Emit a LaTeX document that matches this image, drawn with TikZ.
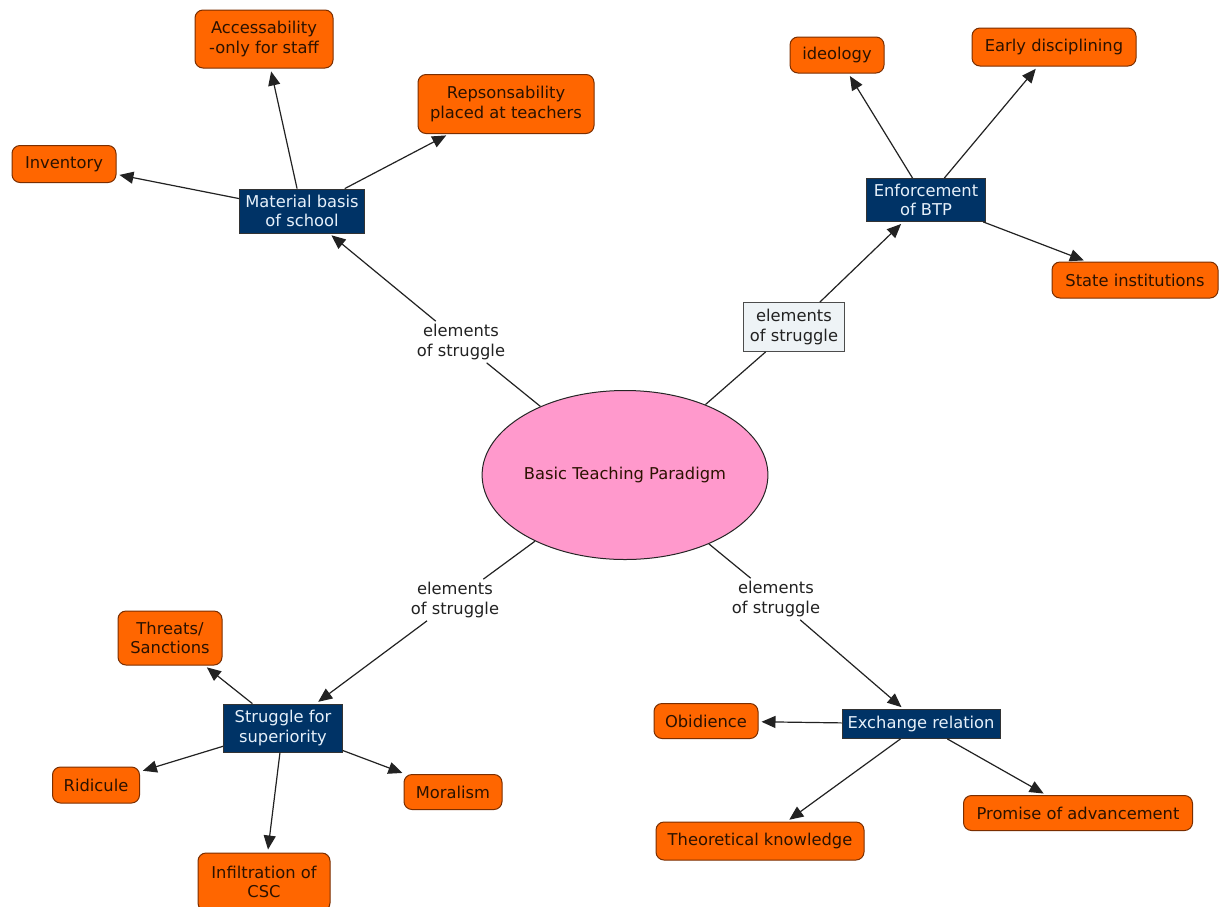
\documentclass[tikz,border=0pt]{standalone}
\usepackage{fontspec}
\setmainfont{DejaVu Sans}
\usetikzlibrary{arrows.meta,shapes.geometric}
\definecolor{orangefill}{HTML}{FF6600}
\definecolor{orangeedge}{HTML}{7A2E00}
\definecolor{bluefill}{HTML}{003366}
\definecolor{bluetext}{HTML}{E6F0FA}
\definecolor{pinkfill}{HTML}{FF99CC}
\definecolor{labelfill}{HTML}{EEF3F6}
\definecolor{inkdark}{HTML}{2B1200}
\definecolor{linkink}{HTML}{222222}
\begin{document}
\begin{tikzpicture}[x=1pt,y=-1pt,
  txt/.style={font=\fontsize{16.3}{19.5}\selectfont, align=center, inner sep=0pt},
  leaf/.style={txt, rectangle, rounded corners=8pt, fill=orangefill, draw=orangeedge, line width=1pt, text=inkdark},
  concept/.style={txt, rectangle, fill=bluefill, draw=black!80, line width=0.8pt, text=bluetext},
  root/.style={txt, ellipse, fill=pinkfill, draw=black!85, line width=1pt, text=inkdark, minimum width=277pt, minimum height=169pt},
  linklabel/.style={txt, text=linkink, inner sep=3pt},
  boxedlabel/.style={linklabel, fill=labelfill, draw=black!70, line width=0.8pt},
  link/.style={draw=linkink, line width=1.2pt},
  arrowlink/.style={link, -{Triangle[length=14pt,width=12pt]}, shorten >=3pt}]
\useasboundingbox (0,0) rectangle (1221,906);
\clip (0,0) rectangle (1221,906);
\fill[white] (0,0) rectangle (1221,906);

% root
\node[root] (root) at (625,475) {Basic Teaching Paradigm};

% link labels
\node[linklabel] (lTL) at (461,342) {elements\\of struggle};
\node[boxedlabel, minimum width=101pt, minimum height=49pt, inner sep=0pt] (lTR) at (794,327) {elements\\of struggle};
\node[linklabel] (lBL) at (455,600) {elements\\of struggle};
\node[linklabel] (lBR) at (776,599) {elements\\of struggle};

% concepts
\node[concept, minimum width=125pt, minimum height=44pt] (mat) at (302,211) {Material basis\\of school};
\node[concept, minimum width=119pt, minimum height=43pt] (enf) at (926,200) {Enforcement\\of BTP};
\node[concept, minimum width=119pt, minimum height=48pt] (strug) at (283,728) {Struggle for\\superiority};
\node[concept, minimum width=158pt, minimum height=29pt] (exch) at (921,724) {Exchange relation};

% leaves
\node[leaf, minimum width=138pt, minimum height=58pt] (acc) at (264,39) {Accessability\\-only for staff};
\node[leaf, minimum width=176pt, minimum height=59pt] (rep) at (506,104) {Repsonsability\\placed at teachers};
\node[leaf, minimum width=104pt, minimum height=37pt] (inv) at (64,164) {Inventory};
\node[leaf, minimum width=94pt, minimum height=36pt] (ideo) at (837,55) {ideology};
\node[leaf, minimum width=164pt, minimum height=38pt] (early) at (1054,47) {Early disciplining};
\node[leaf, minimum width=166pt, minimum height=36pt] (state) at (1135,280) {State institutions};
\node[leaf, minimum width=104pt, minimum height=54pt] (threat) at (170,638) {Threats/\\Sanctions};
\node[leaf, minimum width=87pt, minimum height=36pt] (rid) at (96,785) {Ridicule};
\node[leaf, minimum width=98pt, minimum height=35pt] (moral) at (453,792) {Moralism};
\node[leaf, minimum width=132pt, minimum height=58pt] (infil) at (264,882) {Infiltration of\\CSC};
\node[leaf, minimum width=104pt, minimum height=35pt] (obi) at (706,721) {Obidience};
\node[leaf, minimum width=208pt, minimum height=38pt] (theo) at (760,841) {Theoretical knowledge};
\node[leaf, minimum width=229pt, minimum height=35pt] (prom) at (1078,813) {Promise of advancement};

% root to labels to concepts
\draw[link] (root) -- (lTL);
\draw[arrowlink] (lTL) -- (mat);
\draw[link] (root) -- (lTR);
\draw[arrowlink] (lTR) -- (enf);
\draw[link] (root) -- (lBL);
\draw[arrowlink] (lBL) -- (strug);
\draw[link] (root) -- (lBR);
\draw[arrowlink] (lBR) -- (exch);

% concepts to leaves
\draw[arrowlink] (mat) -- (inv);
\draw[arrowlink] (mat) -- (acc);
\draw[arrowlink] (mat) -- (rep);
\draw[arrowlink] (enf) -- (ideo);
\draw[arrowlink] (enf) -- (early);
\draw[arrowlink] (enf) -- (state);
\draw[arrowlink] (strug) -- (threat);
\draw[arrowlink] (strug) -- (rid);
\draw[arrowlink] (strug) -- (moral);
\draw[arrowlink] (strug) -- (infil);
\draw[arrowlink] (exch) -- (obi);
\draw[arrowlink] (exch) -- (theo);
\draw[arrowlink] (exch) -- (prom);
\end{tikzpicture}
\end{document}
